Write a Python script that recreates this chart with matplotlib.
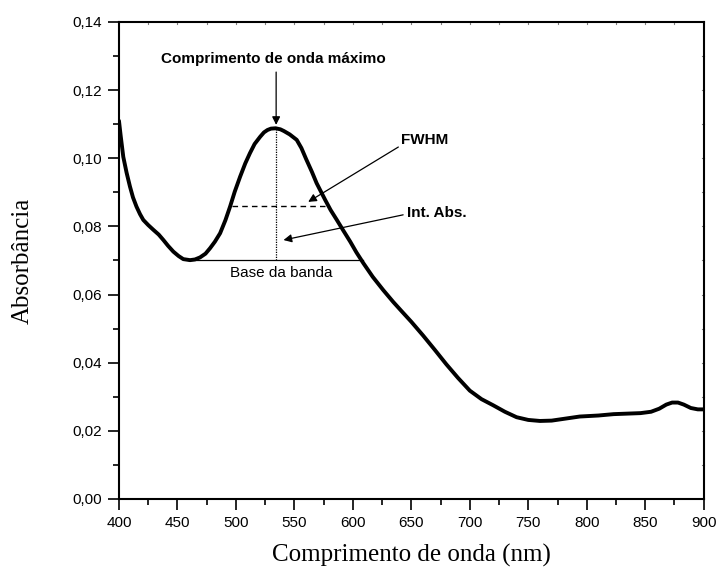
import matplotlib
matplotlib.use("Agg")
from matplotlib import pyplot as plt
from matplotlib.ticker import MultipleLocator, FuncFormatter

# absorption spectrum (nm, absorbance)
wavelength = [400, 401.5, 403.7, 406.5, 409.4, 412, 415, 418, 420.8, 425,
              429.4, 434, 438, 442, 446.5, 451, 455, 460.8, 465, 469.3,
              474, 477.9, 482, 486.5, 491, 495, 499, 503.6, 508, 512,
              516, 520.7, 524, 527, 530, 534, 538, 541, 546, 552,
              556, 560, 565, 569, 576.3, 581, 586.3, 592, 597.8, 603,
              609, 617, 626, 634.6, 642, 650, 660, 670, 680, 690,
              700, 710, 720, 730, 740, 750, 760, 770, 780, 794,
              810, 823, 846, 855, 862, 868, 873, 878, 883, 889,
              895, 900]
absorbance = [0.1110, 0.1065, 0.1004, 0.0958, 0.0917, 0.0885, 0.0858, 0.0836, 0.0819, 0.0804,
              0.0790, 0.0776, 0.0760, 0.0743, 0.0726, 0.0713, 0.0704, 0.0701, 0.0703, 0.0709,
              0.0720, 0.0736, 0.0755, 0.0780, 0.0818, 0.0858, 0.0902, 0.0946, 0.0985, 0.1015,
              0.1042, 0.1063, 0.1076, 0.1083, 0.1087, 0.1088, 0.1085, 0.1080, 0.1070, 0.1054,
              0.1030, 0.0998, 0.0960, 0.0927, 0.0878, 0.0848, 0.0819, 0.0787, 0.0755, 0.0724,
              0.0692, 0.0652, 0.0613, 0.0578, 0.0550, 0.0520, 0.0480, 0.0438, 0.0395, 0.0355,
              0.0318, 0.0293, 0.0275, 0.0256, 0.0240, 0.0232, 0.0229, 0.0230, 0.0235, 0.0242,
              0.0245, 0.0249, 0.0252, 0.0256, 0.0265, 0.0277, 0.0283, 0.0283, 0.0277, 0.0267,
              0.0263, 0.0263]

# band construction lines
lambda_max = 534.4
abs_max = 0.1088
base_x = [459.3, 609]
base_y = 0.0700
fwhm_x = [496.4, 576]
fwhm_y = 0.0860

sans = "Liberation Sans"
serif = "Liberation Serif"

fig = plt.figure(figsize=(7.21, 5.74), dpi=100)
ax = fig.add_axes([0.165, 0.1307, 0.811, 0.8310])

ax.plot(wavelength, absorbance, color="black", lw=2.8,
        solid_joinstyle="round", solid_capstyle="round")
ax.plot(base_x, [base_y, base_y], color="black", lw=0.9)
ax.plot(fwhm_x, [fwhm_y, fwhm_y], color="black", lw=1.0, ls=(0, (4, 3)))
ax.plot([lambda_max, lambda_max], [base_y, abs_max], color="black", lw=0.9, ls=(0, (1, 1)))

ax.set_xlim(400, 900)
ax.set_ylim(0, 0.14)

ax.xaxis.set_major_locator(MultipleLocator(50))
ax.xaxis.set_minor_locator(MultipleLocator(25))
ax.yaxis.set_major_locator(MultipleLocator(0.02))
ax.yaxis.set_minor_locator(MultipleLocator(0.01))
ax.yaxis.set_major_formatter(FuncFormatter(lambda v, p: f"{v:.2f}".replace(".", ",")))

ax.tick_params(which="major", direction="out", length=8, width=1.2, pad=4,
               labelsize=11, top=False, right=False)
ax.tick_params(which="minor", direction="out", length=4, width=1.2,
               top=False, right=False)
for lab in ax.get_xticklabels() + ax.get_yticklabels():
    lab.set_fontfamily(sans)

for s in ax.spines.values():
    s.set_linewidth(1.5)

# small inner ticks on the top and right frame
for x in range(425, 900, 25):
    ax.plot([x, x], [0.14, 0.1395], color="gray", lw=0.8, clip_on=False)
for k in range(1, 14):
    ax.plot([900, 898.5], [k * 0.01, k * 0.01], color="gray", lw=0.8, clip_on=False)

ax.set_xlabel("Comprimento de onda (nm)", fontfamily=serif, fontsize=18, labelpad=10)
ax.set_ylabel("Absorbância", fontfamily=serif, fontsize=18, labelpad=28)

arrow = dict(arrowstyle="-|>", color="black", lw=0.9, mutation_scale=12,
             shrinkA=0, shrinkB=0)
ax.annotate("", xy=(lambda_max, 0.1098), xytext=(lambda_max, 0.1253), arrowprops=arrow)
ax.text(532, 0.1290, "Comprimento de onda máximo", ha="center", va="center",
        fontfamily=sans, fontweight="bold", fontsize=11)

ax.annotate("", xy=(561.8, 0.0872), xytext=(638.9, 0.1033), arrowprops=arrow)
ax.text(641, 0.1053, "FWHM", ha="left", va="center",
        fontfamily=sans, fontweight="bold", fontsize=11)

ax.annotate("", xy=(540.7, 0.0760), xytext=(643, 0.0834), arrowprops=arrow)
ax.text(646, 0.0840, "Int. Abs.", ha="left", va="center",
        fontfamily=sans, fontweight="bold", fontsize=11)

ax.text(539, 0.0663, "Base da banda", ha="center", va="center",
        fontfamily=sans, fontsize=11)

fig.savefig("out.png", dpi=100)
